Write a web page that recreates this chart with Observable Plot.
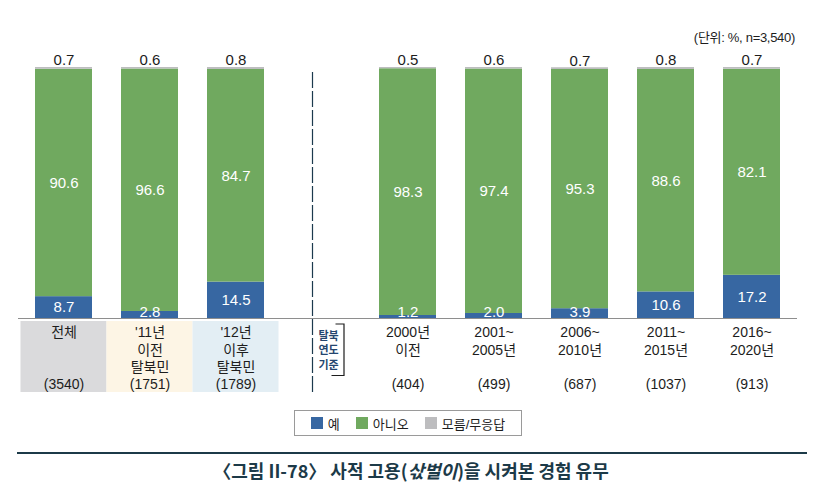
<!DOCTYPE html>
<html>
<head>
<meta charset="utf-8">
<script src="https://cdn.jsdelivr.net/npm/d3@7"></script>
<script src="https://cdn.jsdelivr.net/npm/@observablehq/plot@0.6"></script>
<style>
  body { margin: 0; background: #fff; }
  #wrap { position: relative; width: 828px; height: 501px; overflow: hidden; background: #fff;
          font-family: "Liberation Sans", "Noto Sans CJK KR", sans-serif; color: #1d1d1d; }
  #chart { position: absolute; left: 0; top: 0; }
  #unit { position: absolute; right: 33px; top: 30px; font-size: 13px; line-height: 16px; letter-spacing: -0.3px; }
  #legend { position: absolute; left: 294px; top: 410px; width: 228px; height: 26px; box-sizing: border-box;
            border: 1px solid #9a9a9a; display: flex; align-items: center; justify-content: center; font-size: 13px; }
  #legend .item { display: flex; align-items: center; margin: 0 8px; }
  #legend .sw { width: 12px; height: 12px; margin-right: 5px; }
  #rule { position: absolute; left: 17px; top: 452px; width: 790px; border-top: 2px solid #1c3a48; }
  #title { position: absolute; left: 0; width: 822px; top: 458px; text-align: center; font-size: 18px; line-height: 24px;
           font-weight: 600; color: #1c3a48; letter-spacing: 0px; font-family: "Noto Sans CJK KR", sans-serif; }
</style>
</head>
<body>
<div id="wrap">
  <div id="chart"></div>
  <div id="unit">(단위: %, n=3,540)</div>
  <div id="legend"></div>
  <div id="rule"></div>
  <div id="title">〈그림 II-78〉 사적 고용(<i>삯벌이</i>)을 시켜본 경험 유무</div>
</div>
<script>
// ---- data ----
const groups = ["전체", "'11년 이전 탈북민", "'12년 이후 탈북민", "2000년 이전", "2001~2005년", "2006~2010년", "2011~2015년", "2016~2020년"];
const groupLabels = ["전체", "'11년\n이전\n탈북민", "'12년\n이후\n탈북민", "2000년\n이전", "2001~\n2005년", "2006~\n2010년", "2011~\n2015년", "2016~\n2020년"];
const sampleN = [3540, 1751, 1789, 404, 499, 687, 1037, 913];
const yes = [8.7, 2.8, 14.5, 1.2, 2.0, 3.9, 10.6, 17.2];
const no = [90.6, 96.6, 84.7, 98.3, 97.4, 95.3, 88.6, 82.1];
const unknown = [0.7, 0.6, 0.8, 0.5, 0.6, 0.7, 0.8, 0.7];
const responses = ["예", "아니오", "모름/무응답"];
const responseColors = ["#3767a2", "#70a95f", "#bdbdbf"];
const boxFills = ["#dadadc", "#fdf5e5", "#e3eef4"];
const sideNote = ["탈북", "연도", "기준"];

// ---- build ----
const blank = " ";
const xDomain = [...groups.slice(0, 3), blank, ...groups.slice(3)];
const rows = groups.flatMap((g, i) => [
  {group: g, response: responses[0], value: yes[i]},
  {group: g, response: responses[1], value: no[i]},
  {group: g, response: responses[2], value: unknown[i]}
]);
const totals = groups.map((g, i) => yes[i] + no[i] + unknown[i]);
const fmt = v => v.toFixed(1);
const font = '"Liberation Sans", "Noto Sans CJK KR", sans-serif';
const zeros = groups.map(() => 0);

const plot = Plot.plot({
  width: 828, height: 400,
  marginLeft: 18, marginRight: 31, marginTop: 67, marginBottom: 82,
  style: {fontFamily: font, fontSize: "15px", color: "#1d1d1d", background: "transparent"},
  x: {domain: xDomain, paddingInner: 0.34, paddingOuter: 0.17, axis: null},
  y: {domain: [0, 100], axis: null},
  color: {domain: responses, range: responseColors},
  marks: [
    Plot.barY(rows, {x: "group", y: "value", fill: "response"}),
    Plot.ruleY([0], {stroke: "#8e8e8e", strokeWidth: 1}),
    Plot.text(groups, {x: groups, y: totals, text: unknown.map(fmt), dy: -7, fill: "#1d1d1d", fontSize: 15}),
    Plot.text(groups, {x: groups, y: groups.map((g, i) => yes[i] + no[i] / 2), text: no.map(fmt), fill: "white", fontSize: 15}),
    Plot.text(groups, {x: groups, y: yes.map(v => Math.max(v / 2, 2.6)), text: yes.map(fmt), fill: "white", fontSize: 15}),
    Plot.text(groups, {x: groups, y: zeros, text: groupLabels, lineAnchor: "top", dy: 6, lineHeight: 1.26, fontSize: 14, fill: "#1d1d1d"}),
    Plot.text(groups, {x: groups, y: zeros, text: sampleN.map(n => `(${n})`), dy: 66, fontSize: 14, fill: "#1d1d1d"})
  ]
});
document.getElementById("chart").appendChild(plot);

// decorations positioned with the plot's x scale
const xs = plot.scale("x");
const bw = xs.bandwidth, step = xs.step;
const svg = d3.select(plot);
const bg = svg.insert("g", "g");
groups.slice(0, 3).forEach((g, i) => {
  bg.append("rect")
    .attr("x", xs.apply(g) - (step - bw) / 2).attr("width", step)
    .attr("y", 321).attr("height", 71)
    .attr("fill", boxFills[i]);
});
const cx = xs.apply(blank) + bw / 2;
const deco = svg.append("g");
deco.append("line")
  .attr("x1", cx - 9).attr("x2", cx - 9).attr("y1", 72).attr("y2", 392)
  .attr("stroke", "#1c3a4e").attr("stroke-width", 1.2).attr("stroke-dasharray", "16,3");
deco.append("path")
  .attr("d", `M${cx + 14},324H${cx + 22.5}V375.5H${cx + 10}`)
  .attr("fill", "none").attr("stroke", "#1d1d1d").attr("stroke-width", 1.2);
sideNote.forEach((t, i) => {
  deco.append("text")
    .attr("x", cx + 7).attr("y", 336 + i * 14.5).attr("dy", "0.35em")
    .attr("text-anchor", "middle").attr("font-size", 11).attr("font-weight", 700)
    .attr("fill", "#24466f").attr("font-family", '"Noto Sans CJK KR", sans-serif')
    .text(t);
});

// legend
const legend = d3.select("#legend");
responses.forEach((r, i) => {
  const it = legend.append("div").attr("class", "item");
  it.append("div").attr("class", "sw").style("background", responseColors[i]);
  it.append("span").text(r);
});
</script>
</body>
</html>
